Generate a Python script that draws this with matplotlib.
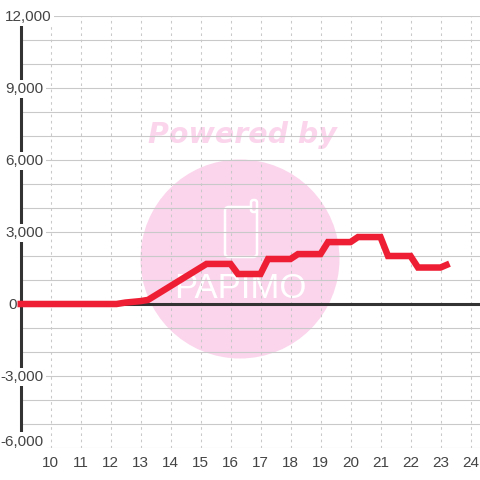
import matplotlib
matplotlib.use('Agg')
import matplotlib.pyplot as plt
from matplotlib.patches import Circle, FancyBboxPatch
from matplotlib.transforms import blended_transform_factory

plt.rcParams['font.family'] = ['Liberation Sans', 'DejaVu Sans']

# Datos
horas = [8.9, 12.2, 12.5, 13, 13.25, 15.2, 16, 16.25, 17, 17.25, 18, 18.25, 19, 19.25, 20, 20.25, 21, 21.25, 22, 22.25, 23, 23.3]
valores = [0, 0, 60, 120, 170, 1670, 1670, 1250, 1250, 1875, 1875, 2080, 2080, 2580, 2580, 2790, 2790, 2000, 2000, 1520, 1520, 1680]

xticks = list(range(10, 25))
yticks = [12000, 9000, 6000, 3000, 0, -3000, -6000]
ylabels = ['12,000', '9,000', '6,000', '3,000', '0', '-3,000', '-6,000']

W = 480
TEXTO = '#444444'
GRIS = '#c9c9c9'
ROSA = '#fbd5ec'


def px(x, y):
    # pixeles de la imagen a fraccion de figura
    return x / W, 1 - y / W


fig = plt.figure(figsize=(4.8, 4.8), dpi=100)
ax = fig.add_axes([20.5 / W, 1 - 448 / W, (W - 20.5) / W, 432 / W])
ax.set_xlim(9, 9 + (W - 20.5) / 30)
ax.set_ylim(-6000, 12000)

# Marca de agua
tf = fig.transFigure
ax.add_artist(plt.Text(*px(242, 135), 'Powered by', transform=tf, color=ROSA, fontsize=20.5,
                       fontfamily='DejaVu Sans', fontweight='bold', fontstyle='italic',
                       ha='center', va='center', zorder=0.1))
ax.add_patch(Circle((240 / W, 1 - 259 / W), 99.5 / W, transform=tf, fc=ROSA, ec='none', zorder=0.1))
ax.add_patch(FancyBboxPatch((225 / W, 1 - 257 / W), 32 / W, 50 / W, boxstyle='round,pad=0,rounding_size=0.008',
                            transform=tf, fc='none', ec='white', lw=1.8, zorder=0.2))
ax.add_patch(FancyBboxPatch((251 / W, 1 - 212 / W), 6 / W, 12 / W, boxstyle='round,pad=0,rounding_size=0.005',
                            transform=tf, fc=ROSA, ec='white', lw=1.8, zorder=0.21))
ax.add_artist(plt.Text(*px(240, 289), 'PAPIMO', transform=tf, color='white', fontsize=25,
                       ha='center', va='center', zorder=0.2))

# Rejilla
ax.set_axisbelow(True)
ax.set_xticks(xticks)
ax.set_yticks(range(-6000, 12001, 1000))
ax.grid(True, axis='y', color=GRIS, lw=0.8, ls='-')
ax.grid(True, axis='x', color=GRIS, lw=0.75, ls=(0, (2.5, 3.5)))
ax.tick_params(length=0, labelleft=False)
ax.tick_params(axis='x', labelsize=11, labelcolor=TEXTO, pad=5.5)

for s in ['top', 'right', 'bottom']:
    ax.spines[s].set_visible(False)
ax.spines['left'].set_color('#333333')
ax.spines['left'].set_linewidth(2.2)
ax.spines['left'].set_zorder(1)

ax.axhline(0, color='#333333', lw=2.2, zorder=1.5)
ax.plot(horas, valores, color='#ee1f35', lw=4.7, solid_joinstyle='miter', solid_capstyle='butt',
        zorder=2, clip_on=False)

# Etiquetas del eje Y, con fondo blanco que tapa el eje
trans = blended_transform_factory(fig.transFigure, ax.transData)
for v, lab in zip(yticks, ylabels):
    xd = 43.5
    yd = v - 30
    fondo = dict(fc='white', ec='none', pad=1.5)
    if v == 12000:
        xd = 52
    if v == -6000:
        yd = v + 270
    if v == 0:
        xd = 16.5
        fondo = None
    ax.text(xd / W, yd, lab, transform=trans, ha='right', va='center', fontsize=11, color=TEXTO, clip_on=False,
            zorder=3, bbox=fondo)

fig.savefig('out.png', dpi=100)
